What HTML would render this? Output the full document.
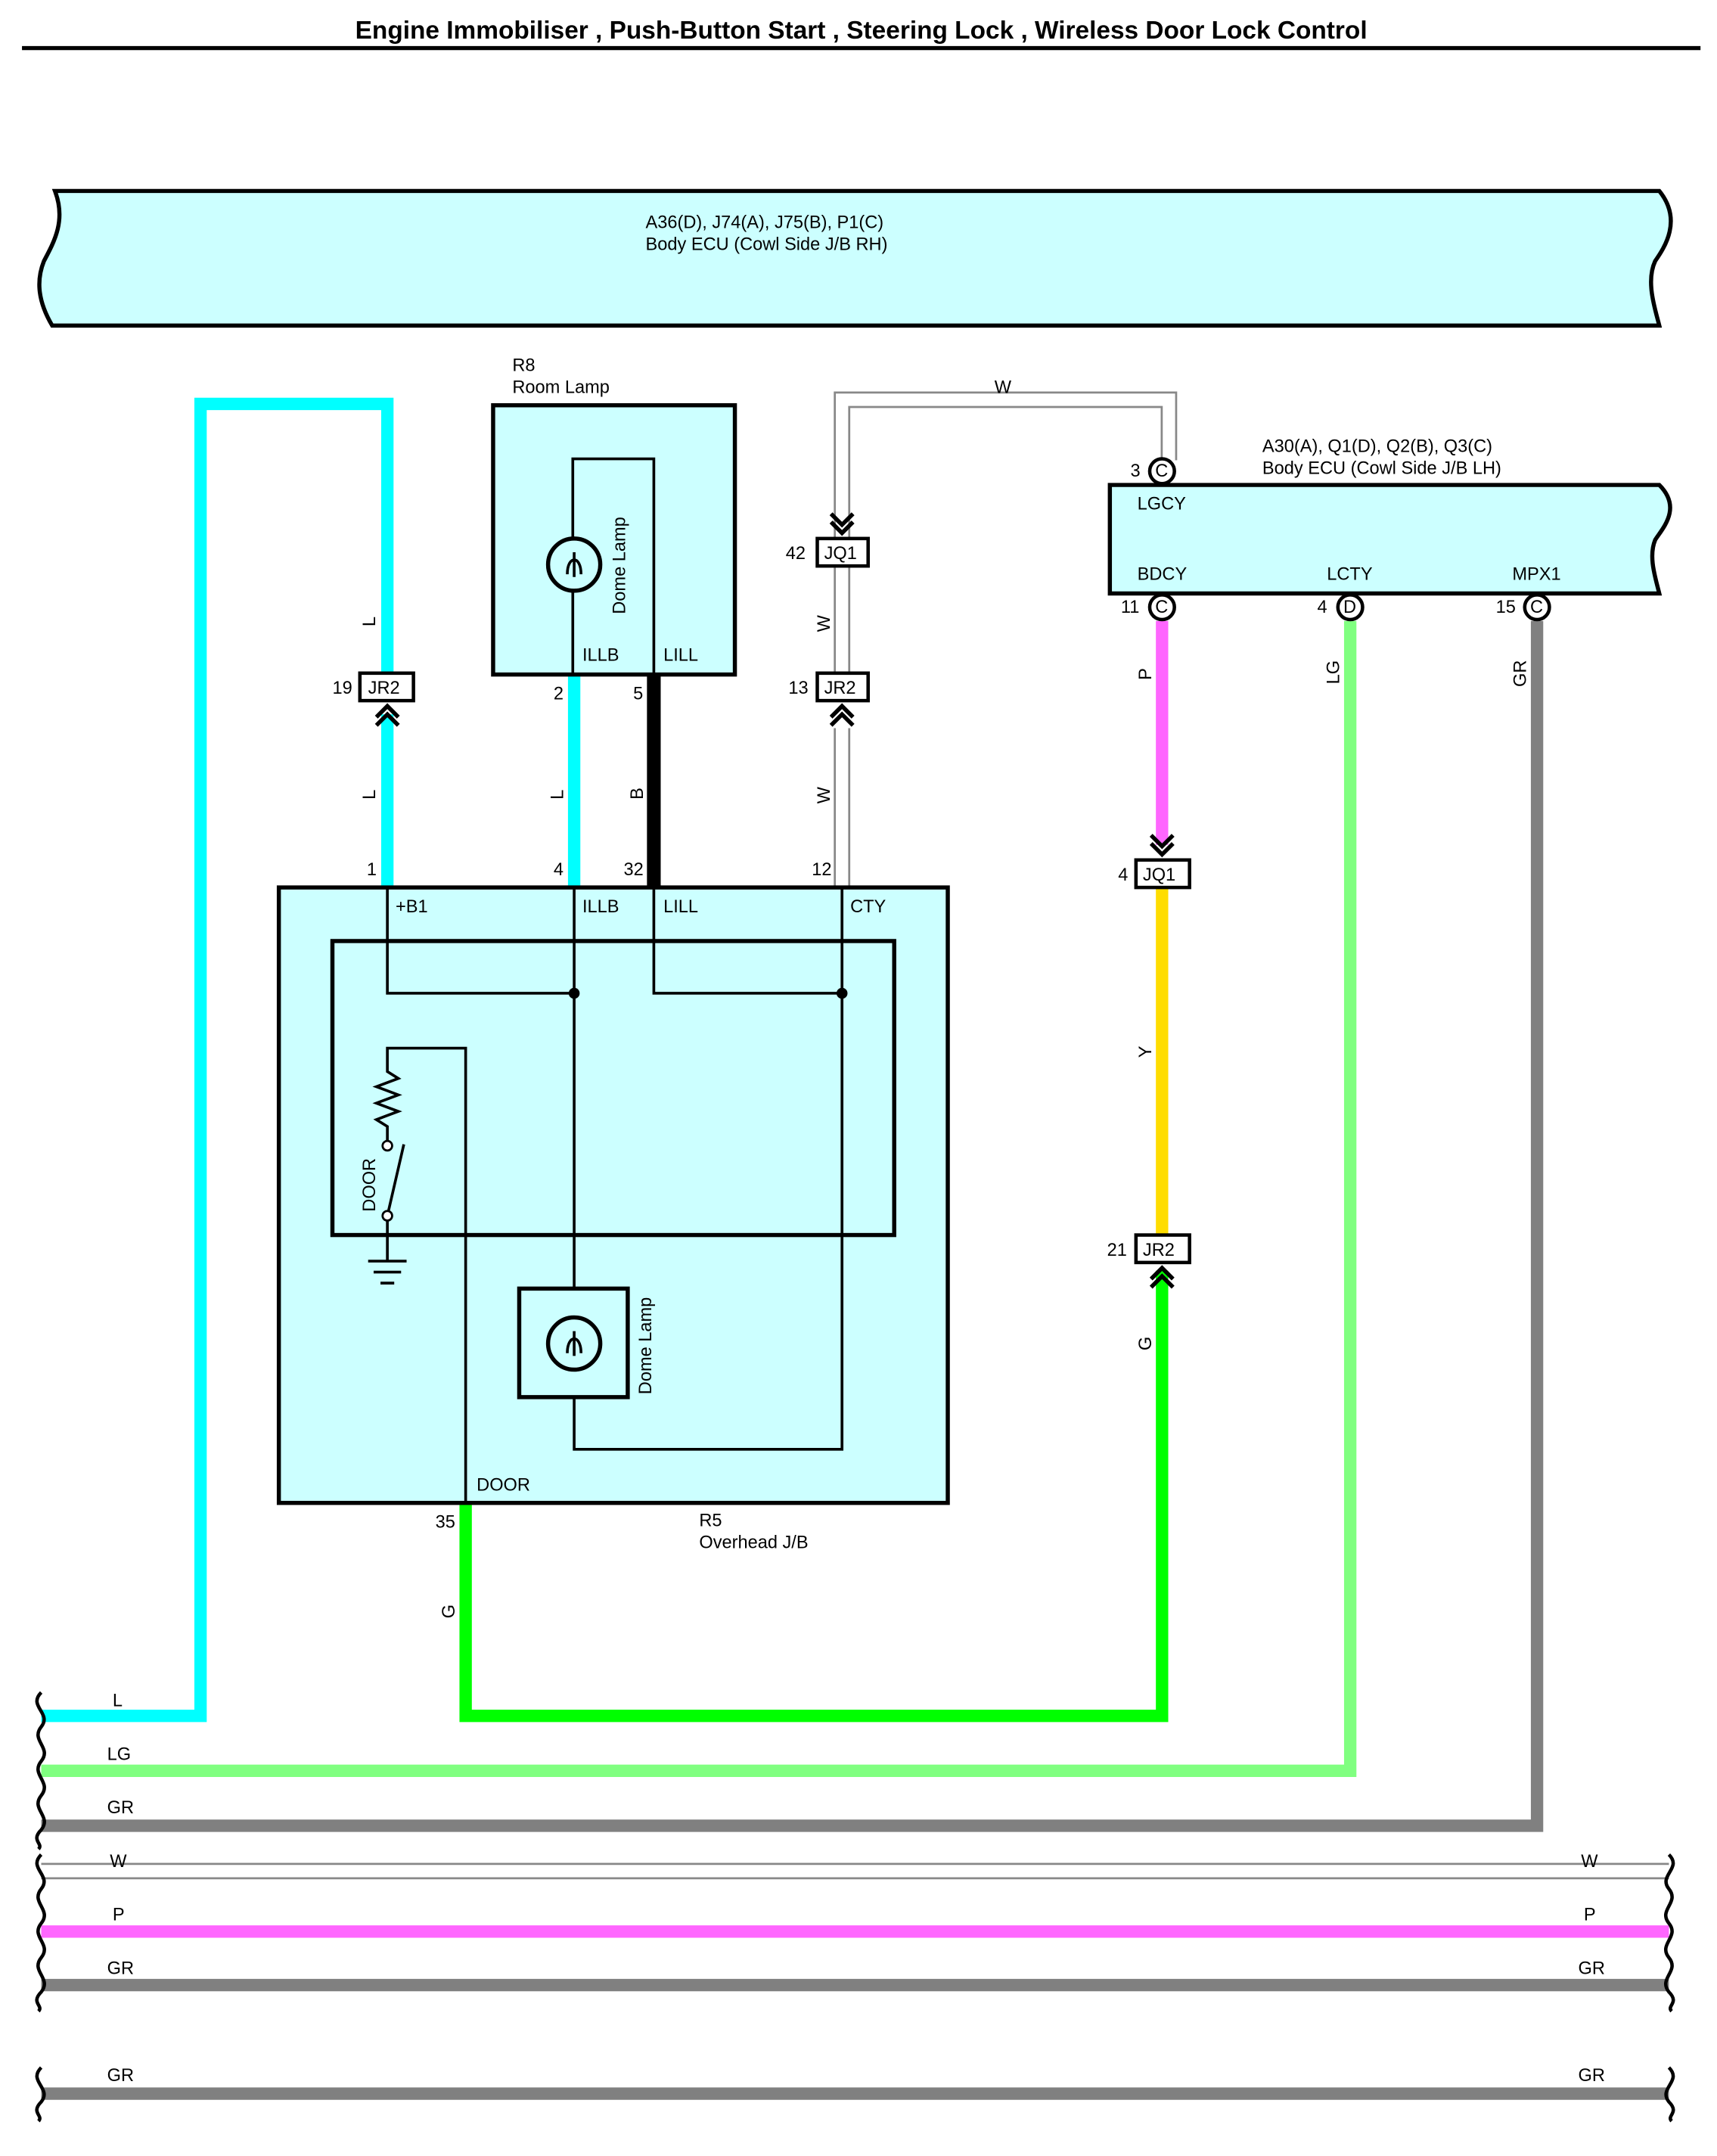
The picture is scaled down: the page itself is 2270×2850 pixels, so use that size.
<!DOCTYPE html>
<html><head><meta charset="utf-8"><style>html,body{margin:0;padding:0;background:#fff}svg{display:block}text{font-family:"Liberation Sans",sans-serif;font-size:13px;fill:#000}</style></head><body>
<svg width="2270" height="2850" viewBox="0 0 1250 1569.4" xmlns="http://www.w3.org/2000/svg">
<defs>
<g id="chevU"><path d="M-8,8 L0,0 L8,8 M-8,14 L0,6 L8,14" fill="none" stroke="#000" stroke-width="3"/></g>
<g id="chevD"><path d="M-8,-8 L0,0 L8,-8 M-8,-14 L0,-6 L8,-14" fill="none" stroke="#000" stroke-width="3"/></g>
</defs>
<text x="627" y="28" text-anchor="middle" style="font-size:18.4px;font-weight:bold">Engine Immobiliser , Push-Button Start , Steering Lock , Wireless Door Lock Control</text>
<line x1="16" y1="35" x2="1238" y2="35" stroke="#000" stroke-width="3"/>
<path d="M40,139 L1208,139 C1225,160 1212,180 1205,190 C1198,205 1205,225 1208,237 L38,237 C28,220 26,205 32,190 C40,175 48,160 40,139 Z" fill="#ccffff" stroke="#000" stroke-width="3"/>
<text x="470" y="166">A36(D), J74(A), J75(B), P1(C)</text>
<text x="470" y="182">Body ECU (Cowl Side J/B RH)</text>
<g fill="none" stroke-linejoin="miter">
<path d="M30,1249 H146 V294 H282 V497" stroke="#00ffff" stroke-width="9"/>
<path d="M282,520 V646" stroke="#00ffff" stroke-width="9"/>
<path d="M418,491 V646" stroke="#00ffff" stroke-width="9"/>
<path d="M476,491 V646" stroke="#000" stroke-width="10"/>
<path d="M613,392 V291 H851 V335" stroke="#888" stroke-width="12"/>
<path d="M613,392 V291 H851 V335" stroke="#fff" stroke-width="9"/>
<path d="M613,412 V490 M613,530 V646" stroke="#888" stroke-width="12"/>
<path d="M613,412 V490 M613,530 V646" stroke="#fff" stroke-width="9"/>
<path d="M846,452 V615" stroke="#ff66ff" stroke-width="9"/>
<path d="M846,647 V899" stroke="#ffdd00" stroke-width="9"/>
<path d="M846,925 V1249 H339 V1095" stroke="#00ff00" stroke-width="9"/>
<path d="M983,452 V1289 H30" stroke="#80ff80" stroke-width="9"/>
<path d="M1119,452 V1329 H30" stroke="#808080" stroke-width="9"/>
<path d="M30,1362 H1215" stroke="#888" stroke-width="12"/>
<path d="M30,1362 H1215" stroke="#fff" stroke-width="9"/>
<path d="M30,1406 H1215" stroke="#ff66ff" stroke-width="9"/>
<path d="M30,1445 H1215" stroke="#808080" stroke-width="9"/>
<path d="M30,1524 H1215" stroke="#808080" stroke-width="9"/>
</g>
<g fill="none" stroke="#000" stroke-width="2.5">
<path d="M30,1232 c-10,10 8,15 0,25 c-8,10 8,15 0,25 c-8,10 8,15 0,25 c-8,10 8,15 0,25 c-8,8 2,10 -2,14"/>
<path d="M30,1350 c-10,10 8,15 0,25 c-8,10 8,15 0,25 c-8,10 8,15 0,25 c-8,10 8,15 0,25 c-8,8 2,10 -2,14"/>
<path d="M30,1505 c-10,10 8,15 0,25 c-8,8 2,10 -2,14"/>
<path d="M1215,1350 c10,10 -8,15 0,25 c8,10 -8,15 0,25 c8,10 -8,15 0,25 c8,10 -8,15 0,25 c8,8 -2,10 2,14"/>
<path d="M1215,1505 c10,10 -8,15 0,25 c8,8 -2,10 2,14"/>
</g>
<g style="font-size:13px">
<text x="82" y="1242">L</text><text x="78" y="1281">LG</text><text x="78" y="1320">GR</text>
<text x="80" y="1359">W</text><text x="82" y="1398">P</text><text x="78" y="1437">GR</text><text x="78" y="1515">GR</text>
<text x="1151" y="1359">W</text><text x="1153" y="1398">P</text><text x="1149" y="1437">GR</text><text x="1149" y="1515">GR</text>
</g>
<rect x="359" y="295" width="176" height="196" fill="#ccffff" stroke="#000" stroke-width="3"/>
<rect x="417" y="334" width="59" height="157" fill="none" stroke="#000" stroke-width="2"/>
<circle cx="418" cy="411" r="19" fill="#ccffff" stroke="#000" stroke-width="3"/>
<path d="M413,418 c0,-14 10,-14 10,0 M418,402 v18" fill="none" stroke="#000" stroke-width="2"/>
<text transform="translate(455,447) rotate(-90)">Dome Lamp</text>
<text x="373" y="270">R8</text><text x="373" y="286">Room Lamp</text>
<text x="424" y="481">ILLB</text><text x="483" y="481">LILL</text>
<text x="403" y="509">2</text><text x="461" y="509">5</text>
<g style="font-size:13px">
<text transform="translate(273,456) rotate(-90)">L</text>
<text transform="translate(273,582) rotate(-90)">L</text>
<text transform="translate(410,582) rotate(-90)">L</text>
<text transform="translate(468,582) rotate(-90)">B</text>
<text transform="translate(604,460) rotate(-90)">W</text>
<text transform="translate(604,585) rotate(-90)">W</text>
<text transform="translate(838,495) rotate(-90)">P</text>
<text transform="translate(838,770) rotate(-90)">Y</text>
<text transform="translate(838,983) rotate(-90)">G</text>
<text transform="translate(975,498) rotate(-90)">LG</text>
<text transform="translate(1111,500) rotate(-90)">GR</text>
<text transform="translate(331,1178) rotate(-90)">G</text>
<text x="724" y="286">W</text>
</g>
<g stroke="#000" stroke-width="2.5" fill="#fff">
<rect x="262" y="490" width="39" height="20"/>
<rect x="595" y="490" width="37" height="20"/>
<rect x="595" y="392" width="37" height="20"/>
<rect x="827" y="626" width="39" height="20"/>
<rect x="827" y="899" width="39" height="20"/>
</g>
<text x="268" y="505">JR2</text><text x="600" y="505">JR2</text><text x="600" y="407">JQ1</text>
<text x="832" y="641">JQ1</text><text x="832" y="914">JR2</text>
<use href="#chevU" x="282" y="514"/><use href="#chevU" x="613" y="514"/><use href="#chevU" x="846" y="923"/>
<use href="#chevD" x="613" y="388"/><use href="#chevD" x="846" y="622"/>
<text x="242" y="505">19</text><text x="574" y="505">13</text><text x="572" y="407">42</text>
<text x="814" y="641">4</text><text x="806" y="914">21</text>
<path d="M808,353 L1208,353 C1225,370 1210,385 1205,393 C1200,405 1205,420 1208,432 L808,432 Z" fill="#ccffff" stroke="#000" stroke-width="3"/>
<text x="919" y="329">A30(A), Q1(D), Q2(B), Q3(C)</text>
<text x="919" y="345">Body ECU (Cowl Side J/B LH)</text>
<text x="828" y="371">LGCY</text><text x="828" y="422">BDCY</text><text x="966" y="422">LCTY</text><text x="1101" y="422">MPX1</text>
<g fill="#fff" stroke="#000" stroke-width="2.5">
<circle cx="846" cy="343" r="9"/><circle cx="846" cy="442" r="9"/><circle cx="983" cy="442" r="9"/><circle cx="1119" cy="442" r="9"/>
</g>
<g style="font-size:11px"><text x="841" y="347">C</text><text x="841" y="446">C</text><text x="978" y="446">D</text><text x="1114" y="446">C</text></g>
<text x="823" y="347">3</text><text x="816" y="446">11</text><text x="959" y="446">4</text><text x="1089" y="446">15</text>
<rect x="203" y="646" width="487" height="448" fill="#ccffff" stroke="#000" stroke-width="3"/>
<rect x="242" y="685" width="409" height="214" fill="none" stroke="#000" stroke-width="3"/>
<g fill="none" stroke="#000" stroke-width="2">
<path d="M282,646 V723 H418"/>
<path d="M418,646 V1055 H613 V646"/>
<path d="M476,646 V723 H613"/>
<path d="M339,1094 V763 H282 V780 l8,5 l-16,6 l16,6 l-16,6 l16,6 l-16,6 l8,5 V833"/>
<path d="M282,885 L294,833"/>
<path d="M282,885 V918 M268,918 h28 M272,926 h20 M277,934 h10"/>
</g>
<circle cx="418" cy="723" r="4"/><circle cx="613" cy="723" r="4"/>
<circle cx="282" cy="834" r="3.5" fill="#fff" stroke="#000" stroke-width="1.5"/>
<circle cx="282" cy="885" r="3.5" fill="#fff" stroke="#000" stroke-width="1.5"/>
<text transform="translate(273,882) rotate(-90)">DOOR</text>
<rect x="378" y="938" width="79" height="79" fill="#ccffff" stroke="#000" stroke-width="3"/>
<circle cx="418" cy="978" r="19" fill="#ccffff" stroke="#000" stroke-width="3"/>
<path d="M413,985 c0,-14 10,-14 10,0 M418,969 v18" fill="none" stroke="#000" stroke-width="2"/>
<text transform="translate(474,1015) rotate(-90)">Dome Lamp</text>
<text x="288" y="664">+B1</text><text x="424" y="664">ILLB</text><text x="483" y="664">LILL</text><text x="619" y="664">CTY</text>
<text x="267" y="637">1</text><text x="403" y="637">4</text><text x="454" y="637">32</text><text x="591" y="637">12</text>
<text x="347" y="1085">DOOR</text><text x="317" y="1112">35</text>
<text x="509" y="1111">R5</text><text x="509" y="1127">Overhead J/B</text>
</svg>
</body></html>
